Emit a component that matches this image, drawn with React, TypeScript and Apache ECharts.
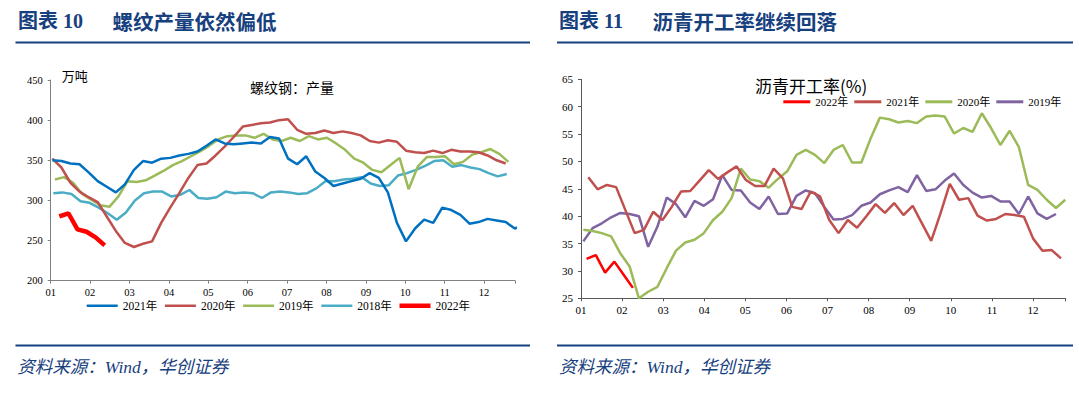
import React, { useEffect, useRef } from "react";
import * as echarts from "echarts";

// ---------- tick labels ----------
const MONTHS = ["01", "02", "03", "04", "05", "06", "07", "08", "09", "10", "11", "12"];

// ---------- left chart: 螺纹钢产量 (万吨), weekly ----------
const REBAR_2021 = [350, 349, 346, 345, 335, 324, 317, 310, 320, 338, 349, 347, 352, 353, 356, 358, 361, 368, 376, 371, 370, 371, 372, 371, 379, 377, 352, 345, 355, 336, 328, 318, 321, 324, 327, 334, 328, 310, 272, 249, 265, 276, 272, 291, 288, 282, 271, 273, 277, 275, 273, 265, 270];
const REBAR_2020 = [352, 341, 322, 311, 304, 298, 280, 262, 247, 242, 246, 249, 272, 291, 309, 328, 344, 346, 356, 367, 379, 392, 394, 396, 397, 400, 401, 388, 383, 384, 387, 384, 386, 384, 381, 374, 372, 375, 373, 362, 360, 359, 362, 359, 363, 361, 361, 360, 356, 350, 346];
const REBAR_2019 = [326, 329, 322, 308, 301, 294, 292, 305, 324, 323, 325, 331, 337, 344, 349, 355, 361, 368, 376, 380, 381, 381, 378, 383, 376, 374, 378, 374, 380, 376, 378, 371, 363, 352, 347, 338, 335, 344, 353, 314, 342, 354, 354, 355, 345, 348, 357, 360, 364, 358, 348];
const REBAR_2018 = [309, 310, 308, 299, 297, 291, 284, 276, 285, 300, 309, 311, 311, 305, 307, 313, 303, 302, 304, 311, 309, 310, 309, 303, 310, 311, 310, 308, 309, 315, 324, 324, 326, 327, 329, 321, 318, 319, 331, 334, 338, 343, 349, 350, 342, 344, 341, 339, 334, 330, 333];
const REBAR_2022 = [280, 284, 264, 261, 254, 244];
// first observation of each year, in weeks after 1 Jan
const REBAR_FIRST_WEEK = { y2021: 0.18, y2020: 0.18, y2019: 0.47, y2018: 0.29, y2022: 0.95 };

// ---------- right chart: 沥青开工率 (%), weekly ----------
const ASPHALT_2022 = [32.2, 32.9, 29.7, 31.7, 29.3, 26.9];
const ASPHALT_2021 = [47.1, 44.9, 45.7, 45.3, 41.1, 36.9, 37.5, 40.8, 39.3, 41.7, 44.5, 44.6, 46.5, 48.4, 46.8, 48.0, 49.1, 46.6, 45.5, 45.5, 48.7, 46.9, 41.7, 41.3, 44.5, 43.6, 39.3, 36.9, 39.3, 37.9, 40.0, 42.2, 40.6, 42.4, 40.2, 41.9, 38.7, 35.5, 40.5, 45.9, 43.0, 43.3, 40.1, 39.2, 39.5, 40.4, 40.2, 39.9, 35.9, 33.7, 33.8, 32.3];
const ASPHALT_2020 = [37.5, 37.3, 36.9, 36.3, 33.2, 30.8, 25.0, 26.2, 27.1, 30.5, 33.7, 35.2, 35.7, 36.9, 39.3, 40.8, 43.3, 48.7, 46.7, 46.4, 45.2, 46.8, 48.2, 51.2, 52.1, 51.2, 49.7, 52.1, 53.0, 49.8, 49.8, 54.2, 58.0, 57.7, 57.1, 57.4, 57.0, 58.2, 58.4, 58.2, 55.1, 56.1, 55.4, 58.8, 56.1, 53.0, 55.6, 52.6, 45.7, 44.8, 43.0, 41.5, 43.0];
const ASPHALT_2019 = [35.4, 37.8, 38.7, 39.8, 40.6, 40.4, 40.0, 34.4, 38.1, 43.4, 42.2, 39.8, 42.8, 41.9, 43.1, 47.5, 44.8, 44.7, 42.5, 41.3, 43.6, 40.4, 40.5, 43.7, 44.7, 44.2, 41.7, 39.4, 39.5, 40.2, 41.9, 42.5, 44.0, 44.7, 45.3, 44.4, 47.5, 44.6, 44.9, 46.5, 47.8, 45.7, 44.3, 43.4, 43.7, 42.7, 42.7, 40.4, 43.6, 40.5, 39.5, 40.4];
const ASPHALT_FIRST_STEP = { y2022: 0.6, y2021: 0.79, y2020: 0.25, y2019: 0.25 };

const NAVY = "#17407e";
const SERIF = "'Liberation Serif', 'Noto Sans CJK SC', serif";
const CJK = "'Noto Sans CJK SC', sans-serif";

function pairs(values: number[], start: number): number[][] {
  return values.map((v, i) => [start + i, v]);
}

function monthAxis(max: number, interval: number, fontSize: number, margin: number, axisColor: string) {
  return {
    type: "value",
    min: 0,
    max,
    interval,
    axisLine: { show: true, lineStyle: { color: axisColor, width: 1 } },
    axisTick: { show: true, length: 3, lineStyle: { color: axisColor } },
    splitLine: { show: false },
    axisLabel: {
      fontFamily: SERIF,
      fontSize,
      color: "#000",
      margin,
      formatter: (v: number) => {
        const k = Math.round(v / interval);
        if (Math.abs(v - k * interval) > 0.05 || k < 0 || k >= MONTHS.length) return "";
        return MONTHS[k];
      },
    },
  };
}

function valueAxis(min: number, max: number, interval: number, fontSize: number, axisColor: string) {
  return {
    type: "value",
    min,
    max,
    interval,
    axisLine: { show: true, lineStyle: { color: axisColor, width: 1 } },
    axisTick: { show: true, length: 3, lineStyle: { color: axisColor } },
    splitLine: { show: false },
    axisLabel: { fontFamily: SERIF, fontSize, color: "#000", margin: 8 },
  };
}

function lineSeries(name: string, data: number[][], color: string, width: number) {
  return {
    name,
    type: "line",
    data,
    symbol: "none",
    showSymbol: false,
    lineStyle: { color, width },
    itemStyle: { color },
  };
}

// legend key: a plain bar as long as the key and as thick as the series line
function legendItem(name: string, length: number, thickness: number) {
  return { name, icon: `path://M0 0H${length}V${thickness}H0Z` };
}

function txt(text: string, x: number, y: number, font: string, fill: string) {
  return {
    type: "text",
    x,
    y,
    silent: true,
    style: { text, font, fill, textAlign: "left", textVerticalAlign: "middle" },
  };
}

function rule(x1: number, x2: number, y: number) {
  return {
    type: "line",
    silent: true,
    shape: { x1, y1: y, x2, y2: y },
    style: { stroke: NAVY, lineWidth: 2 },
  };
}

function leftOption() {
  return {
    animation: false,
    grid: { left: 50.7, top: 80, width: 464.3, height: 200.7 },
    xAxis: monthAxis(51.2, 4.345, 10.5, 7, "#808080"),
    yAxis: valueAxis(200, 450, 50, 10.5, "#808080"),
    legend: {
      data: [
        legendItem("2021年", 31, 2.5),
        legendItem("2020年", 31, 2.5),
        legendItem("2019年", 31, 2.5),
        legendItem("2018年", 31, 2.5),
        legendItem("2022年", 31, 4.5),
      ],
      left: 86.7,
      top: 300,
      padding: 0,
      itemWidth: 31,
      itemHeight: 12,
      itemGap: 7.7,
      symbolKeepAspect: true,
      selectedMode: false,
      textStyle: { fontFamily: SERIF, fontSize: 11.5, color: "#000" },
    },
    series: [
      lineSeries("2018年", pairs(REBAR_2018, REBAR_FIRST_WEEK.y2018), "#4bacc6", 2.5),
      lineSeries("2019年", pairs(REBAR_2019, REBAR_FIRST_WEEK.y2019), "#9bbb59", 2.5),
      lineSeries("2020年", pairs(REBAR_2020, REBAR_FIRST_WEEK.y2020), "#c0504d", 2.5),
      lineSeries("2021年", pairs(REBAR_2021, REBAR_FIRST_WEEK.y2021), "#0070c0", 2.5),
      lineSeries("2022年", pairs(REBAR_2022, REBAR_FIRST_WEEK.y2022), "#ff0000", 4.5),
    ],
    graphic: [
      txt("图表 10", 18, 21, `bold 20px ${SERIF}`, NAVY),
      txt("螺纹产量依然偏低", 112.5, 21, `bold 20.5px ${CJK}`, NAVY),
      rule(15.5, 530, 42.5),
      txt("万吨", 61.7, 75, `13px ${CJK}`, "#000"),
      txt("螺纹钢：产量", 250, 87, `14px ${CJK}`, "#000"),
      rule(15.5, 530, 345.5),
      txt("资料来源：Wind，华创证券", 17.3, 367, `italic 17.5px ${SERIF}`, NAVY),
    ],
  };
}

function rightOption() {
  return {
    animation: false,
    grid: { left: 41, top: 79.3, width: 484.7, height: 219 },
    xAxis: monthAxis(52.3, 4.434, 11, 6, "#595959"),
    yAxis: valueAxis(25, 65, 5, 11, "#595959"),
    legend: {
      data: [
        legendItem("2022年", 27, 3),
        legendItem("2021年", 27, 3),
        legendItem("2020年", 27, 3),
        legendItem("2019年", 27, 3),
      ],
      left: 243.3,
      top: 96.3,
      padding: 0,
      itemWidth: 27,
      itemHeight: 12,
      itemGap: 6,
      symbolKeepAspect: true,
      selectedMode: false,
      textStyle: { fontFamily: SERIF, fontSize: 11, color: "#000" },
    },
    series: [
      lineSeries("2019年", pairs(ASPHALT_2019, ASPHALT_FIRST_STEP.y2019), "#8064a2", 2.5),
      lineSeries("2020年", pairs(ASPHALT_2020, ASPHALT_FIRST_STEP.y2020), "#9bbb59", 2.5),
      lineSeries("2021年", pairs(ASPHALT_2021, ASPHALT_FIRST_STEP.y2021), "#c0504d", 2.5),
      lineSeries("2022年", pairs(ASPHALT_2022, ASPHALT_FIRST_STEP.y2022), "#ff0000", 2.5),
    ],
    graphic: [
      txt("图表 11", 19, 21, `bold 20px ${SERIF}`, NAVY),
      txt("沥青开工率继续回落", 112.5, 21, `bold 20.5px ${CJK}`, NAVY),
      rule(17, 533, 42.5),
      txt("沥青开工率(%)", 215, 85, `17px ${CJK}`, "#000"),
      rule(17, 533, 345.5),
      txt("资料来源：Wind，华创证券", 19, 367, `italic 17.5px ${SERIF}`, NAVY),
    ],
  };
}

export default function App() {
  const leftRef = useRef<HTMLDivElement>(null);
  const rightRef = useRef<HTMLDivElement>(null);

  useEffect(() => {
    const l = echarts.init(leftRef.current as HTMLDivElement, null, { renderer: "svg" });
    l.setOption(leftOption() as any);
    const r = echarts.init(rightRef.current as HTMLDivElement, null, { renderer: "svg" });
    r.setOption(rightOption() as any);
    return () => {
      l.dispose();
      r.dispose();
    };
  }, []);

  return (
    <div style={{ position: "absolute", left: 0, top: 0, width: 1079, height: 398, background: "#fff" }}>
      <div ref={leftRef} style={{ position: "absolute", left: 0, top: 0, width: 540, height: 398 }} />
      <div ref={rightRef} style={{ position: "absolute", left: 540, top: 0, width: 539, height: 398 }} />
    </div>
  );
}
